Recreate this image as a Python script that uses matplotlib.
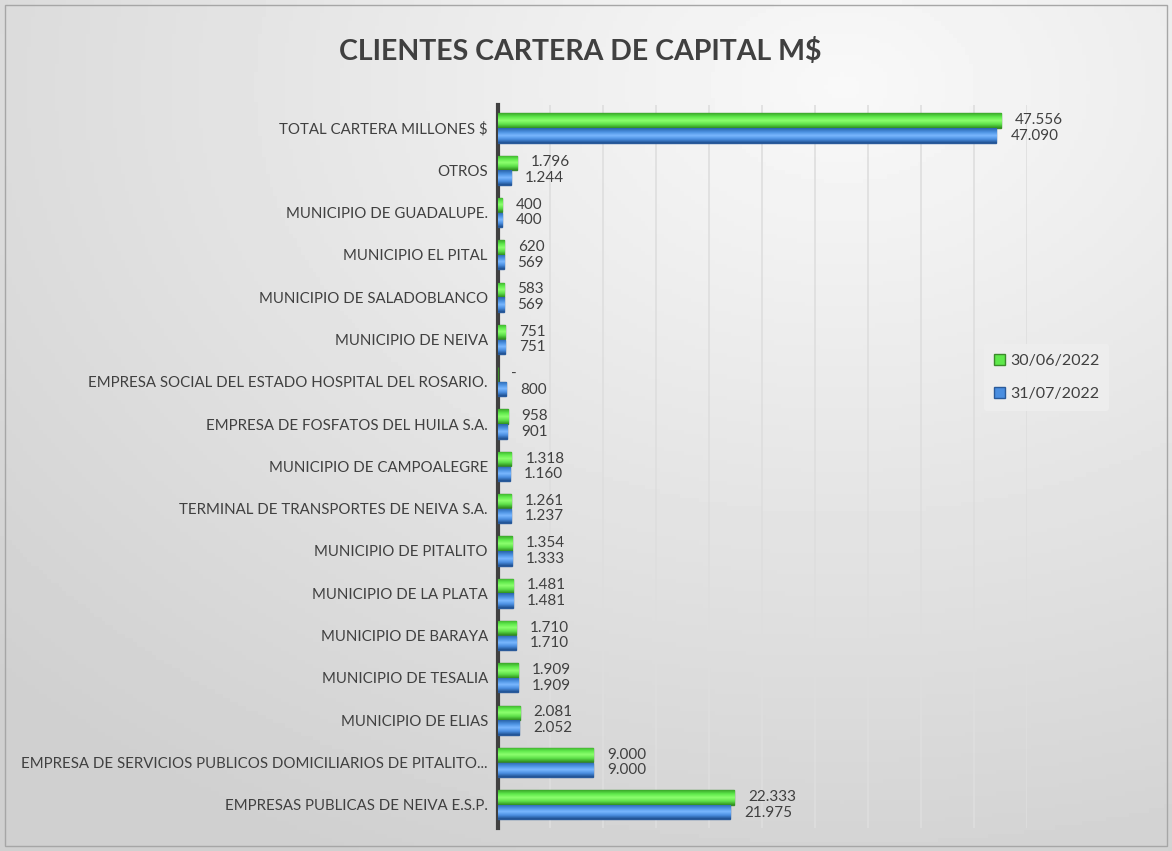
import matplotlib
matplotlib.use("Agg")
import matplotlib.pyplot as plt
import numpy as np
from matplotlib.colors import LinearSegmentedColormap
from matplotlib.patches import Rectangle, Patch

categories = [
    "EMPRESAS PUBLICAS DE NEIVA E.S.P.",
    "EMPRESA DE SERVICIOS PUBLICOS DOMICILIARIOS DE PITALITO...",
    "MUNICIPIO DE ELIAS",
    "MUNICIPIO DE TESALIA",
    "MUNICIPIO DE BARAYA",
    "MUNICIPIO DE LA PLATA",
    "MUNICIPIO DE PITALITO",
    "TERMINAL DE TRANSPORTES DE NEIVA S.A.",
    "MUNICIPIO DE CAMPOALEGRE",
    "EMPRESA DE FOSFATOS DEL HUILA S.A.",
    "EMPRESA SOCIAL DEL ESTADO HOSPITAL DEL ROSARIO.",
    "MUNICIPIO DE NEIVA",
    "MUNICIPIO DE SALADOBLANCO",
    "MUNICIPIO EL PITAL",
    "MUNICIPIO DE GUADALUPE.",
    "OTROS",
    "TOTAL CARTERA MILLONES $",
]
jun_2022 = [22333, 9000, 2081, 1909, 1710, 1481, 1354, 1261, 1318, 958, 0, 751, 583, 620, 400, 1796, 47556]
jul_2022 = [21975, 9000, 2052, 1909, 1710, 1481, 1333, 1237, 1160, 901, 800, 751, 569, 569, 400, 1244, 47090]
series_names = ["30/06/2022", "31/07/2022"]

FONT = ["Lato", "DejaVu Sans"]
plt.rcParams["font.family"] = FONT

W, H = 1172, 851
fig = plt.figure(figsize=(W / 100, H / 100), dpi=100)

# background gradient
bg = fig.add_axes([0, 0, 1, 1], zorder=-10)
yy, xx = np.mgrid[0:1:200j, 0:1:300j]
d = np.sqrt(((xx - 0.72) * 1.0) ** 2 + ((yy - 0.1) * 1.0) ** 2)
val = 0.975 - 0.16 * np.clip(d / 1.0, 0, 1)
bg.imshow(val, cmap="gray", vmin=0, vmax=1, aspect="auto", extent=[0, 1, 1, 0])
bg.set_xlim(0, 1); bg.set_ylim(1, 0)
bg.axis("off")
bg.add_patch(Rectangle((0.004, 0.006), 0.992, 0.988, fill=False, edgecolor="#a6a6a6", lw=1.0))

ax = fig.add_axes([0.4245, 0.027, 0.452, 0.85])
ax.set_facecolor("none")
n = len(categories)
y = np.arange(n)
h = 0.34
off = 0.175

green_cmap = LinearSegmentedColormap.from_list("g", ["#2f8f1f", "#5ee04a", "#8cff6e", "#5ee84a", "#3aa82a"])
blue_cmap = LinearSegmentedColormap.from_list("b", ["#1f4f8f", "#4a8ee0", "#7ab8ff", "#4a90e0", "#2a64aa"])

bars_g = ax.barh(y + off, jun_2022, height=h, color="#5ee84a", edgecolor="#3a8a2a", lw=1.0, zorder=3)
bars_b = ax.barh(y - off, jul_2022, height=h, color="#4a8ee0", edgecolor="#2a5a9a", lw=1.0, zorder=3)

grad = np.linspace(0, 1, 64).reshape(-1, 1)
for bars, cmap in ((bars_g, green_cmap), (bars_b, blue_cmap)):
    for p in bars:
        if p.get_width() <= 0:
            continue
        x0, y0 = p.get_x(), p.get_y()
        im = ax.imshow(grad, cmap=cmap, aspect="auto",
                       extent=[x0, x0 + p.get_width(), y0, y0 + p.get_height()],
                       origin="lower", zorder=3.5, interpolation="bilinear")
        im.set_clip_path(p)

def fmt(v):
    if v == 0:
        return "-"
    return f"{v:,}".replace(",", ".")

for i in range(n):
    ax.annotate(fmt(jun_2022[i]), (jun_2022[i], y[i] + off * 1.05), xytext=(10, 0),
                textcoords="offset points", ha="left", va="center", fontsize=11, color="#404040", zorder=5)
    ax.annotate(fmt(jul_2022[i]), (jul_2022[i], y[i] - off * 1.05), xytext=(10, 0),
                textcoords="offset points", ha="left", va="center", fontsize=11, color="#404040", zorder=5)

ax.set_xlim(0, 50000)
ax.set_ylim(-0.55, n - 0.45)
ax.set_xticks(np.arange(5000, 50001, 5000))
ax.xaxis.grid(True, color="#dedede", lw=1.2, zorder=0)
ax.tick_params(axis="x", length=0, labelbottom=False)
ax.set_yticks(y)
ax.set_yticklabels(categories, fontsize=10.8, color="#404040")
ax.tick_params(axis="y", length=0, pad=7)
for s in ["top", "right", "bottom"]:
    ax.spines[s].set_visible(False)
ax.spines["left"].set_color("#404040")
ax.spines["left"].set_linewidth(3)

handles = [Patch(facecolor="#5ee84a", edgecolor="#3a8a2a"), Patch(facecolor="#4a8ee0", edgecolor="#2a5a9a")]
leg = fig.legend(handles, series_names, loc="upper left", bbox_to_anchor=(0.833, 0.605),
                 frameon=True, fontsize=11.5, handlelength=0.7, handleheight=0.7, handletextpad=0.3,
                 labelspacing=1.2, borderpad=0.6, labelcolor="#404040")
leg.get_frame().set_facecolor("#eeeeee")
leg.get_frame().set_edgecolor("none")
leg.get_frame().set_alpha(0.9)

fig.text(0.495, 0.94, "CLIENTES CARTERA DE CAPITAL M$", ha="center", va="center",
         fontsize=20.5, fontweight="bold", color="#404040")

fig.savefig("out.png", dpi=100)
